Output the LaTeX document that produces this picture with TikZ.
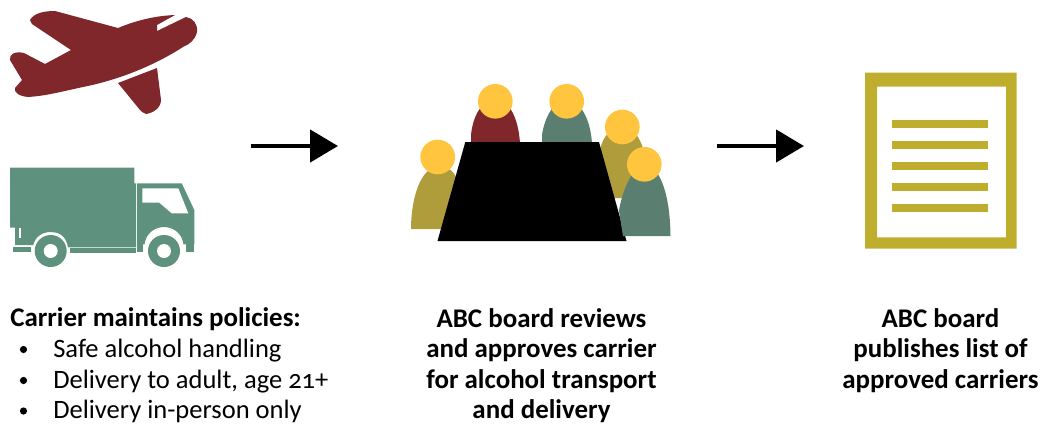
\documentclass[tikz,border=0pt]{standalone}
\usepackage{fontspec}
\setmainfont{Carlito}[Numbers=OldStyle]
\usetikzlibrary{arrows.meta}
\definecolor{planered}{HTML}{7F272B}
\definecolor{truckgreen}{HTML}{5F917F}
\definecolor{persongreen}{HTML}{5A7F70}
\definecolor{personolive}{HTML}{AE9D3A}
\definecolor{headyellow}{HTML}{FFC53F}
\definecolor{docgold}{HTML}{BFAE2D}
\tikzset{
  flowarrow/.style={line width=3.5pt,-{Triangle[length=21pt,width=24pt]}},
  headdot/.style={circle,fill=headyellow,draw=none,minimum size=26pt,inner sep=0pt},
  capt/.style={align=center,font=\fontsize{20.2pt}{22.95pt}\selectfont\bfseries,anchor=north,inner sep=0pt},
  listhead/.style={anchor=base west,inner sep=0pt,font=\fontsize{20.2pt}{23.6pt}\selectfont\bfseries},
  listtext/.style={anchor=base west,inner sep=0pt,font=\fontsize{19.9pt}{23.6pt}\selectfont},
  bulletdot/.style={circle,fill=black,draw=none,minimum size=5.4pt,inner sep=0pt},
  docline/.style={fill=docgold,draw=none},
}
\begin{document}
\begin{tikzpicture}[x=0.75pt,y=-0.75pt]
\useasboundingbox (0,0) rectangle (1042,425);
% plane
\fill[planered] (30,20) .. controls (34,13) and (44,11) .. (55,11) -- (118,28)
 .. controls (130,23) and (150,16) .. (175,15) -- (157,25) -- (157,31) -- (186,17)
 .. controls (193,18) and (198,24) .. (197,32) .. controls (195,40) and (190,44) .. (183,47)
 .. controls (163,60) and (128,78) .. (83,87) .. controls (60,92) and (45,96) .. (28,97)
 .. controls (18,96) and (14,92) .. (15,88) -- (22,80) -- (10,60)
 .. controls (9,54) and (15,51) .. (24,53) -- (45,64) -- (71,50) -- (32,24) -- cycle;
\fill[planered] (118,83) -- (157,68) -- (161,100) .. controls (161,108) and (153,113) .. (146,114)
 .. controls (143,113) and (141,111) .. (140,110) -- cycle;
% truck
\begin{scope}[shift={(0,155)}]
\fill[truckgreen] (10,12.7) -- (134.3,12.7) -- (134.3,28.3) -- (136,28.3) -- (136,92.3) -- (68,92.3)
 .. controls (66,80) and (58,77) .. (50.7,77) .. controls (42,77) and (35,82) .. (33.3,90) -- (15,90) -- (15,72.7) -- (10,72.7) -- cycle;
\fill[white] (19.3,72.7) rectangle (21.3,82.7);
\fill[truckgreen] (12.7,92.3) rectangle (30.7,96.7);
\fill[truckgreen] (70,93.3) rectangle (136,98.3);
\fill[truckgreen] (137,28.3) -- (181.7,28.3) -- (194.3,55) -- (194.3,89.3) -- (183.5,89.3)
 .. controls (182,78) and (173,72) .. (164,72) .. controls (155,72) and (146,78) .. (144.5,89.3)
 -- (137,89.3) -- cycle;
\fill[truckgreen] (137,89.3) rectangle (143.3,96.7);
\fill[truckgreen] (186,89.3) rectangle (194.3,96.7);
\fill[white] (142.3,33.3) -- (178.3,33.3) -- (188.3,58.3) -- (171.7,58.3) -- (159.3,47.7) -- (142.3,47.7) -- cycle;
\fill[truckgreen] (50.7,96) circle[radius=16];
\fill[white] (50.7,96) circle[radius=7];
\fill[truckgreen] (164,96) circle[radius=16];
\fill[white] (164,96) circle[radius=7];
\end{scope}
% people
\begin{scope}[shift={(400,75)}]
\fill[personolive] (11,154) .. controls (11,125) and (20,92) .. (38,92) .. controls (48,92) and (55,95) .. (58,108) -- (50,154) -- cycle;
\fill[planered] (71,80) -- (71,60) .. controls (73,40) and (82,25) .. (95.5,25) .. controls (108,25) and (118,40) .. (120,68) -- (120,80) -- cycle;
\fill[persongreen] (142,80) -- (142,60) .. controls (145,40) and (155,25) .. (167,25) .. controls (178,25) and (190,40) .. (192,68) -- (192,80) -- cycle;
\fill[personolive] (200,123) -- (200,75) .. controls (203,60) and (212,52) .. (222,52) .. controls (232,52) and (240,60) .. (245,80) -- (245,123) -- cycle;
\fill[black] (65.3,67) -- (199,67) -- (226.5,166) -- (37.5,166) -- cycle;
\fill[persongreen] (219,136) .. controls (221,120) and (232,90) .. (245,90) .. controls (258,90) and (270,115) .. (270.5,161) -- (223,161) -- cycle;
\end{scope}
\node[headdot] (h1) at (437.7,157) {};
\node[headdot] (h2) at (495.3,101.3) {};
\node[headdot] (h3) at (566.7,101.3) {};
\node[headdot] (h4) at (622.3,127) {};
\node[headdot] (h5) at (644.3,164.3) {};
% document
\fill[docgold,even odd rule] (865,72.7) rectangle (1016.7,248.7) (877,86.7) rectangle (1006,237.3);
\fill[docline] (892,120.3) rectangle (988.3,128.3);
\fill[docline] (892,141) rectangle (988.3,149);
\fill[docline] (892,162) rectangle (988.3,170);
\fill[docline] (892,183) rectangle (988.3,191);
\fill[docline] (892,204) rectangle (988.3,212);
% arrows
\coordinate (a1s) at (251,146);
\coordinate (a1e) at (338,146);
\coordinate (a2s) at (717,146);
\coordinate (a2e) at (804,146);
\draw[flowarrow] (a1s) -- (a1e);
\draw[flowarrow] (a2s) -- (a2e);
% text
\node[listhead] (t0) at (10,326.5) {Carrier maintains policies:};
\node[listtext] (b1) at (53,357.5) {Safe alcohol handling};
\node[listtext] (b2) at (53,388) {Delivery to adult, age 21+};
\node[listtext] (b3) at (53,418.3) {Delivery in-person only};
\node[bulletdot] (d1) at (23.5,349.5) {};
\node[bulletdot] (d2) at (23.5,380.5) {};
\node[bulletdot] (d3) at (23.5,411) {};
\node[capt] (t1) at (541.5,308) {ABC board reviews\\and approves carrier\\for alcohol transport\\and delivery};
\node[capt] (t2) at (940.5,308) {ABC board\\publishes list of\\approved carriers};
\end{tikzpicture}
\end{document}
